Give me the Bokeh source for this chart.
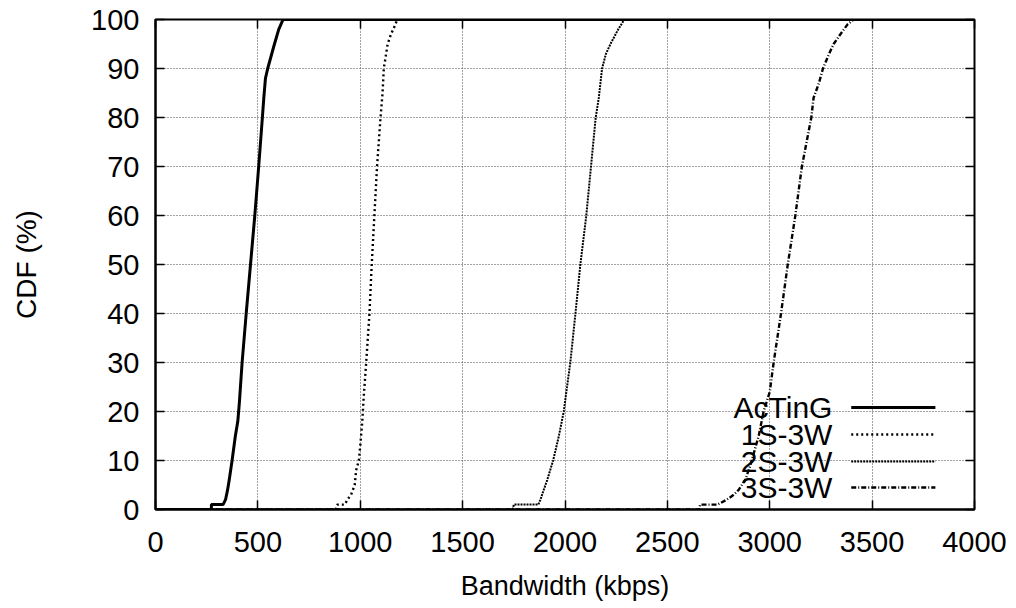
from bokeh.plotting import figure
from bokeh.models import Range1d, LinearAxis, SingleIntervalTicker, Label
from bokeh.core.properties import value
from bokeh.embed import file_html
from bokeh.resources import INLINE

# ---- data ----
acting_bw = [0, 273, 273, 330, 342, 352, 360, 374, 390, 402, 410, 423, 443, 464, 485, 504, 522, 529, 537, 548, 581, 602, 623, 4000]
acting_cdf = [0, 0, 1, 1, 2, 4, 6, 10, 15, 18, 22, 30, 40, 50, 60, 70, 80, 84, 88, 90, 95, 98, 100, 100]

s1_bw = [0, 880, 887, 925, 937, 955, 973, 980, 993, 1000, 1010, 1017, 1029, 1045, 1056, 1069, 1082, 1099, 1109, 1115, 1134, 1150, 1172, 1180, 4000]
s1_cdf = [0, 0, 1, 1, 2, 3, 5, 8, 10, 13, 18, 23, 30, 40, 50, 60, 70, 80, 85, 90, 95, 97, 99, 100, 100]

s2_bw = [0, 1745, 1750, 1870, 1880, 1896, 1913, 1942, 1970, 1994, 2013, 2026, 2051, 2075, 2104, 2127, 2150, 2165, 2181, 2200, 2222, 2260, 2290, 4000]
s2_cdf = [0, 0, 1, 1, 2, 4, 6, 10, 15, 20, 26, 30, 40, 50, 60, 70, 80, 84, 90, 93, 95, 98, 100, 100]

s3_bw = [0, 2655, 2660, 2745, 2790, 2824, 2848, 2880, 2905, 2946, 2970, 3000, 3019, 3055, 3088, 3125, 3157, 3203, 3214, 3240, 3260, 3290, 3312, 3345, 3380, 3410, 4000]
s3_cdf = [0, 0, 1, 1, 2, 3, 4, 6, 9, 15, 20, 24, 30, 40, 50, 60, 70, 80, 84, 87, 90, 93, 95, 97, 99, 100, 100]

series_names = ["AcTinG", "1S-3W", "2S-3W", "3S-3W"]
x_ticks = [0, 500, 1000, 1500, 2000, 2500, 3000, 3500, 4000]
y_ticks = [0, 10, 20, 30, 40, 50, 60, 70, 80, 90, 100]

FONT = "Liberation Sans"
TICK_FS = "29px"
XLAB_FS = "27px"
YLAB_FS = "28px"
LEG_FS = "30px"

p = figure(width=1016, height=608, output_backend="svg", toolbar_location=None,
           x_range=Range1d(0, 4000), y_range=Range1d(0, 100),
           min_border_left=155, min_border_right=42, min_border_top=19, min_border_bottom=99)
p.background_fill_color = "white"
p.border_fill_color = "white"
p.outline_line_color = "black"
p.outline_line_width = 2

xt = SingleIntervalTicker(interval=500, num_minor_ticks=0)
yt = SingleIntervalTicker(interval=10, num_minor_ticks=0)
p.xaxis.ticker = xt
p.yaxis.ticker = yt
p.xgrid.ticker = xt
p.ygrid.ticker = yt
for g in (p.xgrid, p.ygrid):
    g.grid_line_color = "#444444"
    g.grid_line_dash = "1 2"
    g.grid_line_width = 1

for ax in (p.xaxis, p.yaxis):
    ax.major_tick_in = 9
    ax.major_tick_out = 0
    ax.minor_tick_in = 0
    ax.minor_tick_out = 0
    ax.axis_line_color = "black"
    ax.axis_line_width = 2
    ax.major_tick_line_width = 1.5
    ax.major_label_text_font = FONT
    ax.major_label_text_font_size = TICK_FS
    ax.major_label_text_color = "black"
    ax.axis_label_text_font = FONT
    ax.axis_label_text_font_style = "normal"
    ax.axis_label_text_color = "black"

p.xaxis.axis_label = "Bandwidth (kbps)"
p.yaxis.axis_label = "CDF (%)"
p.xaxis.axis_label_text_font_size = XLAB_FS
p.yaxis.axis_label_text_font_size = YLAB_FS
p.xaxis.major_label_standoff = 22
p.xaxis.axis_label_standoff = 16
p.yaxis.major_label_standoff = 16
p.yaxis.axis_label_standoff = 46

# mirror ticks (right/top) with empty labels
ra = LinearAxis(ticker=yt, major_label_overrides={v: "" for v in y_ticks},
                major_tick_in=9, major_tick_out=0, minor_tick_in=0, minor_tick_out=0,
                axis_line_color="black", major_tick_line_width=1.5)
ta = LinearAxis(ticker=xt, major_label_overrides={v: "" for v in x_ticks},
                major_tick_in=9, major_tick_out=0, minor_tick_in=0, minor_tick_out=0,
                axis_line_color="black", major_tick_line_width=1.5)
p.add_layout(ra, "right")
p.add_layout(ta, "above")

styles = [("solid", 3.0), ("2 3", 2.4), ("2 1", 2.0), ("5 2 1 2", 2.4)]
data = [(acting_bw, acting_cdf), (s1_bw, s1_cdf), (s2_bw, s2_cdf), (s3_bw, s3_cdf)]
for (xs, ys), (dash, w) in zip(data, styles):
    p.line(xs, ys, line_color="black", line_width=w, line_dash=dash)

# legend (text left of sample line), placed in the lower right
leg_text_x = 3306
leg_line_x0, leg_line_x1 = 3398, 3809
leg_y = [20.8, 15.3, 9.8, 4.5]
for name, yy, (dash, w) in zip(series_names, leg_y, styles):
    p.add_layout(Label(x=leg_text_x, y=yy, text=name, text_align="right", text_baseline="middle",
                       text_font=FONT, text_font_size=LEG_FS, text_color="black"))
    p.line([leg_line_x0, leg_line_x1], [yy, yy], line_color="black", line_width=w, line_dash=dash)

open("out.html", "w").write(file_html(p, INLINE))
